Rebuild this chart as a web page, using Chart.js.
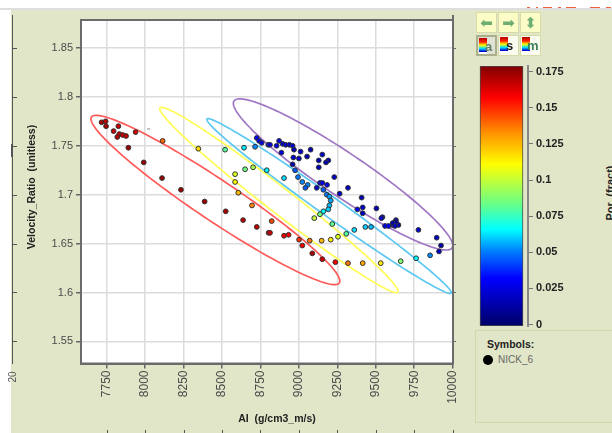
<!DOCTYPE html>
<html>
<head>
<meta charset="utf-8">
<script src="https://cdn.jsdelivr.net/npm/chart.js@4/dist/chart.umd.min.js"></script>
<style>
html, body { margin: 0; padding: 0; width: 612px; height: 433px; overflow: hidden; background: #fff; font-family: "Liberation Sans", Arial, sans-serif; }
.abs { position: absolute; }
#panel { left: 11px; top: 10px; width: 601px; height: 423px; background: #e2e6c8; }
#stripe { left: 0; top: 8px; width: 612px; height: 2px; background: #dedede; }
.red { top: 7px; height: 1px; background: #f0603a; }
canvas { position: absolute; }
#mainChart { left: 0; top: 0; filter: blur(0.35px); }
#barChart { left: 470px; top: 55px; filter: blur(0.3px); }
.btn { width: 21px; height: 21px; background: #fbfcc6; border: 1px solid #d6dba8; box-sizing: border-box; overflow: hidden; text-align: center; color: #6fae72; font-size: 15px; line-height: 20px; font-family: "DejaVu Sans", sans-serif; filter: blur(0.3px); }
.btn.low { background: #fbfcf0; }
.btn.pressed { background: #dfe2d4; border: 2px solid #a9b08a; }
.mini { position: absolute; left: 1px; top: 1px; width: 8px; height: 16px; background: linear-gradient(#b00000, #ff2000 25%, #ffff00 45%, #00e0ff 65%, #0000d0 85%, #fff 85%); }
.letter { position: absolute; left: 7px; top: 1px; font: bold 13px "Liberation Sans", Arial, sans-serif; line-height: 18px; }
#legendBox { left: 475px; top: 330px; width: 137px; height: 93px; border: 1px solid #d2d8ac; border-right: none; box-sizing: border-box; }
#symTitle { left: 487px; top: 338px; font: bold 10.5px "Liberation Sans", Arial, sans-serif; color: #222; }
#symDot { left: 483px; top: 355px; width: 10px; height: 10px; border-radius: 50%; background: #000; }
#symName { left: 498px; top: 354px; font: 10px "Liberation Sans", Arial, sans-serif; color: #666; }
#porTitle { left: 580px; top: 187px; width: 60px; text-align: center; transform: rotate(-90deg); font: bold 11px "Liberation Sans", Arial, sans-serif; color: #222; white-space: nowrap; }
</style>
</head>
<body>
<div class="abs" id="panel"></div>
<div class="abs" id="stripe"></div>
<div class="abs red" style="left:527px;width:3px"></div>
<div class="abs red" style="left:536px;width:2px"></div>
<div class="abs red" style="left:543px;width:9px"></div>
<div class="abs red" style="left:558px;width:3px"></div>
<div class="abs red" style="left:566px;width:10px"></div>
<div class="abs red" style="left:590px;width:10px"></div>
<div class="abs red" style="left:606px;width:5px"></div>

<div class="abs btn" style="left:476px;top:12px">&#11013;</div>
<div class="abs btn" style="left:498px;top:12px">&#10145;</div>
<div class="abs btn" style="left:520px;top:12px">&#11021;</div>
<div class="abs btn pressed" style="left:476px;top:35px"><div class="mini"></div><div class="letter" style="color:#5f7f6a">a</div></div>
<div class="abs btn low" style="left:498px;top:35px"><div class="mini"></div><div class="letter" style="color:#222">s</div></div>
<div class="abs btn low" style="left:520px;top:35px"><div class="mini"></div><div class="letter" style="color:#3f7f5a;left:6px">m</div></div>

<div class="abs" id="legendBox"></div>
<div class="abs" id="symTitle">Symbols:</div>
<div class="abs" id="symDot"></div>
<div class="abs" id="symName">NICK_6</div>
<div class="abs" id="porTitle">Por. (fract)</div>

<canvas id="mainChart" width="612" height="433"></canvas>
<canvas id="barChart" width="142" height="285"></canvas>

<script>
const xTicks = [7750, 8000, 8250, 8500, 8750, 9000, 9250, 9500, 9750, 10000];
const yTicks = [1.55, 1.6, 1.65, 1.7, 1.75, 1.8, 1.85];
const porTicks = [0, 0.025, 0.05, 0.075, 0.1, 0.125, 0.15, 0.175];

const ai = [
    7717, 7743, 7746, 7826, 7795, 7832, 7819, 7854, 7876, 7938, 7891, 7991, 8110, 8233, 8387, 8524, 8637, 8726, 8803,
    8114, 8346, 8520, 8643, 8715, 8585, 8585, 8606, 8695, 8650, 8702, 8791,
    8726, 8741, 8758, 8801, 8812, 8855, 8871, 8894, 8914, 8938, 8959, 8968, 8886, 9011, 9076, 8964, 9000, 9053,
    9152, 9129, 9191, 9176, 8959, 9129, 9230, 9319, 9265, 9408, 9415, 9380, 9415, 9504, 9543, 9536,
    9560, 9582, 9610, 9631, 9619, 9647, 9631, 9610, 9625, 9777, 9896, 9924, 9911,
    8975, 8994, 9022, 9057, 9042, 8903, 9116, 9137, 9152, 9183, 9159, 9181, 9198, 9207, 9198, 9191, 9159, 9137, 9100,
    9217, 9360, 9308, 9254, 9207, 9148, 9070, 9001, 9022, 9087, 9152, 9237, 9319, 9415, 9532, 9662, 9762, 9853,
    9432, 9469, 8823, 8812, 8903, 8933
];
const velocityRatio = [
    1.774, 1.775, 1.770, 1.770, 1.765, 1.762, 1.759, 1.761, 1.760, 1.764, 1.748, 1.733, 1.717, 1.705, 1.693, 1.683, 1.674, 1.667, 1.661,
    1.755, 1.747, 1.746, 1.748, 1.749, 1.721, 1.713, 1.702, 1.689, 1.726, 1.728, 1.725,
    1.758, 1.755, 1.753, 1.751, 1.751, 1.750, 1.755, 1.752, 1.751, 1.751, 1.750, 1.746, 1.743, 1.744, 1.746, 1.738, 1.737, 1.739,
    1.741, 1.735, 1.735, 1.733, 1.731, 1.728, 1.718, 1.707, 1.701, 1.697, 1.687, 1.685, 1.681, 1.686, 1.677, 1.676,
    1.668, 1.668, 1.669, 1.674, 1.671, 1.669, 1.672, 1.671, 1.668, 1.664, 1.656, 1.648, 1.642,
    1.725, 1.718, 1.713, 1.710, 1.707, 1.717, 1.707, 1.712, 1.712, 1.710, 1.705, 1.700, 1.698, 1.694, 1.689, 1.685, 1.683, 1.680, 1.676,
    1.670, 1.664, 1.660, 1.657, 1.654, 1.653, 1.653, 1.654, 1.648, 1.640, 1.634, 1.631, 1.630, 1.630, 1.630, 1.632, 1.635, 1.638,
    1.667, 1.667, 1.673, 1.661, 1.658, 1.659
];
const porosity = [
    0.172, 0.168, 0.172, 0.168, 0.168, 0.168, 0.170, 0.165, 0.168, 0.165, 0.174, 0.175, 0.175, 0.175, 0.175, 0.172, 0.170, 0.168, 0.165,
    0.140, 0.118, 0.080, 0.064, 0.052, 0.105, 0.112, 0.125, 0.135, 0.085, 0.095, 0.065,
    0.030, 0.030, 0.025, 0.030, 0.025, 0.025, 0.025, 0.020, 0.020, 0.020, 0.020, 0.015, 0.025, 0.020, 0.015, 0.020, 0.020, 0.015,
    0.020, 0.015, 0.015, 0.015, 0.015, 0.015, 0.020, 0.020, 0.020, 0.015, 0.020, 0.030, 0.020, 0.015, 0.020, 0.020,
    0.030, 0.030, 0.020, 0.015, 0.015, 0.015, 0.015, 0.015, 0.020, 0.020, 0.020, 0.015, 0.020,
    0.045, 0.050, 0.052, 0.052, 0.045, 0.062, 0.020, 0.030, 0.030, 0.030, 0.045, 0.050, 0.055, 0.055, 0.058, 0.060, 0.065, 0.085, 0.100,
    0.082, 0.062, 0.080, 0.105, 0.115, 0.125, 0.138, 0.150, 0.160, 0.172, 0.165, 0.158, 0.138, 0.128, 0.115, 0.088, 0.066, 0.052,
    0.060, 0.058, 0.145, 0.165, 0.160, 0.158
];

// colour bar stops, bottom to top
const porStops = [-0.001, 0.032, 0.051, 0.066, 0.082, 0.111, 0.133, 0.157, 0.179];
const porColors = ['#000066', '#0000ff', '#0080ff', '#00ffff', '#60ff90', '#ffff00', '#ff9000', '#ff0000', '#800000'];

// fit ellipses: centre, tip of long axis, edge across it (AI, Velocity_Ratio)
const redEllipse = { color: '#ff5a5a', centre: [8457, 1.6946], tip: [7651, 1.7794], edge: [8529, 1.712] };
const yellowEllipse = { color: '#ffff55', centre: [8870, 1.6946], tip: [8097, 1.7887], edge: [8921, 1.7048] };
const blueEllipse = { color: '#5cc8f2', centre: [9196, 1.6884], tip: [8402, 1.7774], edge: [9233, 1.6966] };
const purpleEllipse = { color: '#a077c4', centre: [9287, 1.7207], tip: [8578, 1.7958], edge: [9365, 1.7389] };
const ellipses = [redEllipse, yellowEllipse, blueEllipse, purpleEllipse];

const strayMark = [{ x: 8013, y: 1.7672 }];

function hexToRgb(h) {
    return [parseInt(h.slice(1, 3), 16), parseInt(h.slice(3, 5), 16), parseInt(h.slice(5, 7), 16)];
}

function porColor(p) {
    let i = 0;
    while (i < porStops.length - 2 && p > porStops[i + 1]) i++;
    const f = (p - porStops[i]) / (porStops[i + 1] - porStops[i]);
    const a = hexToRgb(porColors[i]), b = hexToRgb(porColors[i + 1]);
    return 'rgb(' + a.map((v, k) => Math.round(v + (b[k] - v) * f)).join(',') + ')';
}

const plotDecor = {
    id: 'plotDecor',
    beforeDraw(chart) {
        const c = chart.ctx, a = chart.chartArea;
        c.save();
        c.fillStyle = '#ffffff';
        c.fillRect(a.left, a.top, a.right - a.left, a.bottom - a.top);
        c.restore();
    },
    beforeDatasetsDraw(chart) {
        const c = chart.ctx, sx = chart.scales.x, sy = chart.scales.y;
        c.save();
        c.lineWidth = 1.7;
        ellipses.forEach(e => {
            const cx = sx.getPixelForValue(e.centre[0]), cy = sy.getPixelForValue(e.centre[1]);
            const ax = sx.getPixelForValue(e.tip[0]) - cx, ay = sy.getPixelForValue(e.tip[1]) - cy;
            const bx = sx.getPixelForValue(e.edge[0]) - cx, by = sy.getPixelForValue(e.edge[1]) - cy;
            c.strokeStyle = e.color;
            c.beginPath();
            for (let i = 0; i <= 180; i++) {
                const t = i / 180 * Math.PI * 2;
                const px = cx + ax * Math.cos(t) + bx * Math.sin(t);
                const py = cy + ay * Math.cos(t) + by * Math.sin(t);
                if (i === 0) c.moveTo(px, py); else c.lineTo(px, py);
            }
            c.closePath();
            c.stroke();
        });
        c.restore();
    },
    afterDraw(chart) {
        const c = chart.ctx, a = chart.chartArea, sx = chart.scales.x, sy = chart.scales.y;
        c.save();
        // frame
        c.strokeStyle = '#6b6b6b';
        c.lineWidth = 2;
        c.strokeRect(a.left, a.top, a.right - a.left, a.bottom - a.top);
        c.beginPath();
        c.moveTo(a.right, a.top);
        c.lineTo(a.right, 15);
        c.stroke();
        // right side ticks
        c.lineWidth = 1;
        yTicks.forEach(v => {
            const p = Math.round(sy.getPixelForValue(v)) + 0.5;
            c.beginPath();
            c.moveTo(a.right, p);
            c.lineTo(a.right + 3, p);
            c.stroke();
        });
        // leftover axis on the far left
        c.strokeStyle = '#555';
        c.beginPath();
        c.moveTo(12.5, 15);
        c.lineTo(12.5, 364);
        c.stroke();
        yTicks.forEach(v => {
            const p = Math.round(sy.getPixelForValue(v)) + 0.5;
            c.beginPath();
            c.moveTo(12.5, p);
            c.lineTo(17, p);
            c.stroke();
        });
        c.fillStyle = '#555';
        c.fillRect(11, 144, 2, 13);
        // leftover ticks along the bottom
        xTicks.forEach(v => {
            const p = Math.round(sx.getPixelForValue(v)) + 0.5;
            c.beginPath();
            c.moveTo(p, 430);
            c.lineTo(p, 433);
            c.stroke();
        });
        // axis titles
        c.fillStyle = '#222';
        c.font = 'bold 10.5px "Liberation Sans", Arial, sans-serif';
        c.textAlign = 'center';
        c.textBaseline = 'middle';
        c.fillText('AI  (g/cm3_m/s)', 277, 419);
        c.save();
        c.translate(32, 187);
        c.rotate(-Math.PI / 2);
        c.fillText('Velocity_Ratio  (unitless)', 0, 0);
        c.restore();
        c.fillStyle = '#555';
        c.font = '10px "Liberation Sans", Arial, sans-serif';
        c.save();
        c.translate(13, 377);
        c.rotate(-Math.PI / 2);
        c.fillText('20', 0, 0);
        c.restore();
        c.restore();
    }
};

new Chart(document.getElementById('mainChart').getContext('2d'), {
    type: 'scatter',
    data: {
        datasets: [{
            label: 'NICK_6',
            data: ai.map((x, i) => ({ x: x, y: velocityRatio[i] })),
            backgroundColor: porosity.map(porColor),
            borderColor: '#333333',
            borderWidth: 1,
            pointRadius: 2.4
        }, {
            label: 'mark',
            data: strayMark,
            pointStyle: 'dash',
            pointRadius: 3,
            borderColor: '#888',
            borderWidth: 1
        }]
    },
    options: {
        responsive: false,
        animation: false,
        layout: { padding: { left: 0, top: 20, right: 159, bottom: 0 } },
        plugins: { legend: { display: false }, tooltip: { enabled: false } },
        scales: {
            x: {
                type: 'linear',
                min: 7583,
                max: 10002,
                afterBuildTicks: axis => { axis.ticks = xTicks.map(v => ({ value: v })); },
                afterFit: axis => { axis.height = 69.5; },
                grid: { color: '#dcdcdc', lineWidth: 1.5, tickColor: '#666', tickLength: 5 },
                border: { color: '#6b6b6b', width: 2 },
                ticks: {
                    autoSkip: false,
                    minRotation: 90,
                    maxRotation: 90,
                    padding: 2,
                    color: '#4a4a4a',
                    font: { family: '"Liberation Sans", Arial, sans-serif', size: 12 },
                    callback: v => String(v)
                }
            },
            y: {
                type: 'linear',
                min: 1.5274,
                max: 1.8786,
                afterBuildTicks: axis => { axis.ticks = yTicks.map(v => ({ value: v })); },
                afterFit: axis => { axis.width = 81; },
                grid: { color: '#dcdcdc', lineWidth: 1.5, tickColor: '#666', tickLength: 5 },
                border: { color: '#6b6b6b', width: 2 },
                ticks: {
                    padding: 3,
                    color: '#4a4a4a',
                    font: { family: '"Liberation Sans", Arial, sans-serif', size: 11 },
                    callback: v => String(v)
                }
            }
        }
    },
    plugins: [plotDecor]
});

new Chart(document.getElementById('barChart').getContext('2d'), {
    type: 'bar',
    data: {
        labels: ['Por'],
        datasets: [{
            data: [[-0.001, 0.179]],
            barThickness: 43,
            borderWidth: 1,
            borderColor: '#4a4a4a',
            borderSkipped: false,
            backgroundColor: ctx => {
                const area = ctx.chart.chartArea;
                if (!area) return '#888';
                const y = ctx.chart.scales.y;
                const g = ctx.chart.ctx.createLinearGradient(0, y.getPixelForValue(-0.001), 0, y.getPixelForValue(0.179));
                porStops.forEach((s, i) => g.addColorStop((s + 0.001) / 0.18, porColors[i]));
                return g;
            }
        }]
    },
    options: {
        responsive: false,
        animation: false,
        layout: { padding: { left: 5, top: 11, right: 0, bottom: 14 } },
        plugins: { legend: { display: false }, tooltip: { enabled: false } },
        scales: {
            x: { display: false },
            y: {
                position: 'right',
                min: -0.001,
                max: 0.179,
                afterBuildTicks: axis => { axis.ticks = porTicks.map(v => ({ value: v })); },
                afterFit: axis => { axis.width = 84; },
                grid: { drawOnChartArea: false, tickColor: '#777', tickLength: 5 },
                border: { color: '#888', width: 2 },
                ticks: {
                    padding: 3,
                    color: '#222',
                    font: { family: '"Liberation Sans", Arial, sans-serif', size: 11, weight: 'bold' },
                    callback: v => String(v)
                }
            }
        }
    }
});
</script>
</body>
</html>
